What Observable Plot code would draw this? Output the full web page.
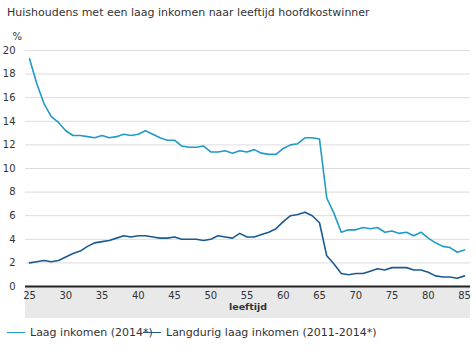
<!DOCTYPE html>
<html>
<head>
<meta charset="utf-8">
<script src="https://cdn.jsdelivr.net/npm/d3@7"></script>
<script src="https://cdn.jsdelivr.net/npm/@observablehq/plot@0.6"></script>
<style>
  html, body { margin: 0; padding: 0; background: #fff; }
  #wrap { position: relative; width: 476px; height: 361px; overflow: hidden; font-family: "DejaVu Sans", Verdana, sans-serif; }
  #title { position: absolute; left: 7px; top: 6px; font-size: 11px; color: #333; white-space: nowrap; }
  #band { position: absolute; left: 25px; top: 287px; width: 445px; height: 31px; background: #e9e9e9; }
  #chart { position: absolute; left: 0; top: 0; }
  #legend { position: absolute; left: 7px; top: 326px; font-size: 11px; color: #333; white-space: nowrap; }
  .item { position: absolute; top: 0; }
  .sw { display: inline-block; width: 18px; height: 0; border-top: 1.5px solid; vertical-align: middle; margin-right: 5px; position: relative; top: -1px; }
</style>
</head>
<body>
<div id="wrap">
  <div id="band"></div>
  <div id="title">Huishoudens met een laag inkomen naar leeftijd hoofdkostwinner</div>
  <div id="chart"></div>
  <div id="legend"></div>
</div>
<script>
const ages = d3.range(25, 86);
const seriesNames = ["Laag inkomen (2014*)", "Langdurig laag inkomen (2011-2014*)"];
const seriesColors = ["#1f9bc6", "#1b5a91"];
const laagInkomen = [
  19.3, 17.2, 15.5, 14.4, 13.9, 13.2, 12.8, 12.8, 12.7, 12.6,
  12.8, 12.6, 12.7, 12.9, 12.8, 12.9, 13.2, 12.9, 12.6, 12.4,
  12.4, 11.9, 11.8, 11.8, 11.9, 11.4, 11.4, 11.5, 11.3, 11.5,
  11.4, 11.6, 11.3, 11.2, 11.2, 11.7, 12.0, 12.1, 12.6, 12.6,
  12.5, 7.5, 6.2, 4.6, 4.8, 4.8, 5.0, 4.9, 5.0, 4.6,
  4.7, 4.5, 4.6, 4.3, 4.6, 4.1, 3.7, 3.4, 3.3, 2.9,
  3.1
];
const langdurig = [
  2.0, 2.1, 2.2, 2.1, 2.2, 2.5, 2.8, 3.0, 3.4, 3.7,
  3.8, 3.9, 4.1, 4.3, 4.2, 4.3, 4.3, 4.2, 4.1, 4.1,
  4.2, 4.0, 4.0, 4.0, 3.9, 4.0, 4.3, 4.2, 4.1, 4.5,
  4.2, 4.2, 4.4, 4.6, 4.9, 5.5, 6.0, 6.1, 6.3, 6.0,
  5.4, 2.6, 1.9, 1.1, 1.0, 1.1, 1.1, 1.3, 1.5, 1.4,
  1.6, 1.6, 1.6, 1.4, 1.4, 1.2, 0.9, 0.8, 0.8, 0.7,
  0.9
];
const xTicks = d3.range(25, 86, 5);
const yTicks = d3.range(0, 21, 2);

const data = [];
[laagInkomen, langdurig].forEach((vals, si) => {
  vals.forEach((v, i) => data.push({age: ages[i], value: v, series: seriesNames[si]}));
});

const chart = Plot.plot({
  width: 476,
  height: 361,
  marginTop: 50,
  marginBottom: 75,
  marginLeft: 25,
  marginRight: 6,
  insetLeft: 4,
  insetRight: 6,
  style: {background: "transparent", fontFamily: "DejaVu Sans, Verdana, sans-serif", fontSize: "10px", color: "#333"},
  x: {domain: [25, 85]},
  y: {domain: [0, 20]},
  color: {domain: seriesNames, range: seriesColors},
  marks: [
    Plot.gridY(yTicks, {stroke: "#dcdcdc", strokeOpacity: 1}),
    Plot.axisY({ticks: yTicks, tickSize: 0, tickPadding: 10, label: null}),
    Plot.axisX({ticks: xTicks, tickSize: 0, tickPadding: 5, label: null}),
    Plot.text(["%"], {frameAnchor: "top-left", dx: -13, dy: -11, lineAnchor: "bottom", fill: "#333", fontSize: 10}),
    Plot.text(["leeftijd"], {frameAnchor: "bottom", dy: 23, fontWeight: "bold", fill: "#333", fontSize: 9.5}),
    Plot.line(data, {x: "age", y: "value", z: "series", stroke: "series", strokeWidth: 1.6}),
    Plot.ruleY([0], {stroke: "#222", strokeWidth: 2})
  ]
});
document.getElementById("chart").appendChild(chart);

const legend = document.getElementById("legend");
const lefts = [0, 136];
seriesNames.forEach((name, i) => {
  const it = document.createElement("span");
  it.className = "item";
  it.style.left = lefts[i] + "px";
  const sw = document.createElement("span");
  sw.className = "sw";
  sw.style.borderTopColor = seriesColors[i];
  it.appendChild(sw);
  it.appendChild(document.createTextNode(name));
  legend.appendChild(it);
});
</script>
</body>
</html>
